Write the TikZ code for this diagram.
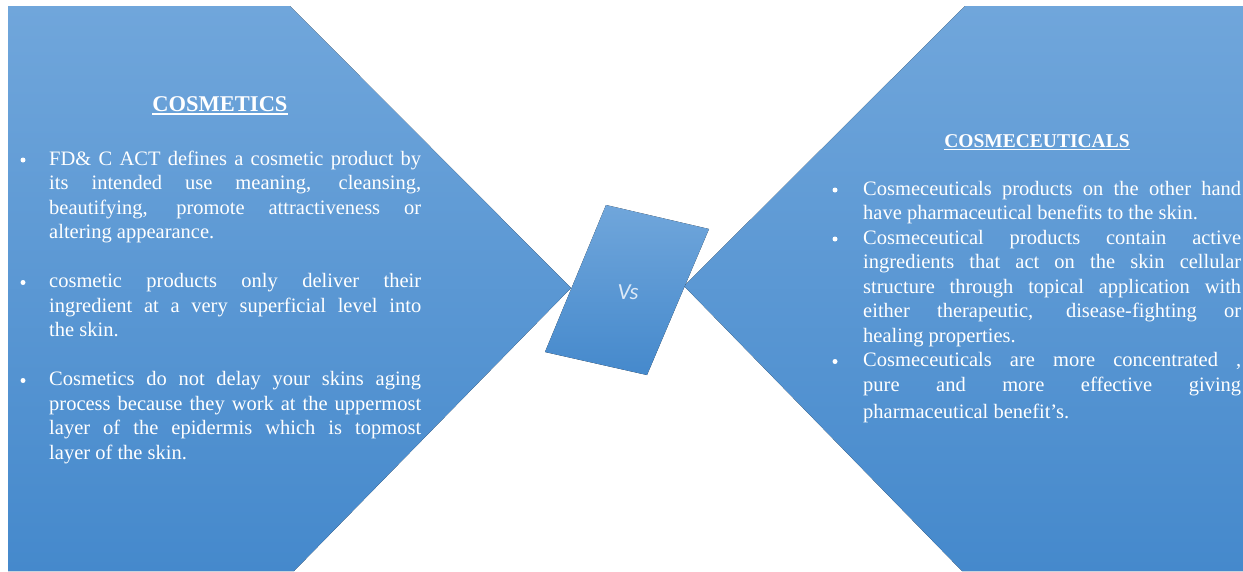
\documentclass[tikz,border=0pt]{standalone}
\usepackage{fontspec}
\setmainfont{Liberation Serif}
\newfontfamily\vsfont{Carlito}
\definecolor{paneltop}{RGB}{112,166,219}
\definecolor{panelbottom}{RGB}{69,137,204}
\definecolor{vstext}{RGB}{222,234,247}
\tolerance=10000 \hbadness=10000
\hyphenpenalty=10000 \exhyphenpenalty=10000
\begin{document}
\begin{tikzpicture}[x=1pt,y=-1pt,
    panel/.style={top color=paneltop,bottom color=panelbottom,draw=none},
    head/.style={text=white,inner sep=0pt,anchor=base},
    para/.style={text=white,inner sep=0pt,anchor=base west,align=justify,
      font=\fontsize{20.5}{24.5}\selectfont},
    dot/.style={circle,fill=white,inner sep=0pt,minimum size=5pt},
    rule/.style={white,line width=1.3pt}]
  \useasboundingbox (0,0) rectangle (1243,571);
  \fill[panel] (8,6) -- (290,6) -- (571,288) -- (294,571) -- (8,571) -- cycle;
  \fill[panel] (684,286) -- (965,6) -- (1243,6) -- (1243,571) -- (962,571) -- cycle;
  \fill[panel] (606,205) -- (709,229) -- (647,375) -- (545,352) -- cycle;
  \node[text=vstext,font=\vsfont\fontsize{23}{23}\selectfont\itshape] (vs) at (628,292) {Vs};

  \node[head,font=\fontsize{22.5}{27}\selectfont\bfseries] (cos) at (220,111.5) {COSMETICS};
  \draw[rule] ([yshift=-2.5pt]cos.base west) -- ([yshift=-2.5pt]cos.base east);
  \node[dot] (l1) at (23,160) {};
  \node[para,text width=372pt] (lp1) at (49,165)
    {FD\& C ACT defines a cosmetic product by\linebreak its intended use meaning, cleansing,\linebreak beautifying, promote attractiveness or\linebreak altering appearance.};
  \node[dot] (l2) at (23,282.5) {};
  \node[para,text width=372pt] (lp2) at (49,287.5)
    {cosmetic products only deliver their\linebreak ingredient at a very superficial level into\linebreak the skin.};
  \node[dot] (l3) at (23,380.5) {};
  \node[para,text width=372pt] (lp3) at (49,385.5)
    {Cosmetics do not delay your skins aging\linebreak process because they work at the uppermost\linebreak layer of the epidermis which is topmost\linebreak layer of the skin.};

  \node[head,font=\fontsize{19.5}{24}\selectfont\bfseries] (cmc) at (1037,147) {COSMECEUTICALS};
  \draw[rule] ([yshift=-2.5pt]cmc.base west) -- ([yshift=-2.5pt]cmc.base east);
  \node[dot] (r1) at (835,190) {};
  \node[para,text width=378pt] (rp1) at (863,195)
    {Cosmeceuticals products on the other hand\linebreak have pharmaceutical benefits to the skin.};
  \node[dot] (r2) at (835,239) {};
  \node[para,text width=378pt] (rp2) at (863,244)
    {Cosmeceutical products contain active\linebreak ingredients that act on the skin cellular\linebreak structure through topical application with\linebreak either therapeutic, disease-fighting or\linebreak healing properties.};
  \node[dot] (r3) at (835,361.5) {};
  \node[para,text width=378pt] (rp3) at (863,366.5)
    {Cosmeceuticals are more concentrated ,\linebreak pure and more effective giving\vadjust{\vskip3pt}\linebreak pharmaceutical benefit's.};
\end{tikzpicture}
\end{document}
